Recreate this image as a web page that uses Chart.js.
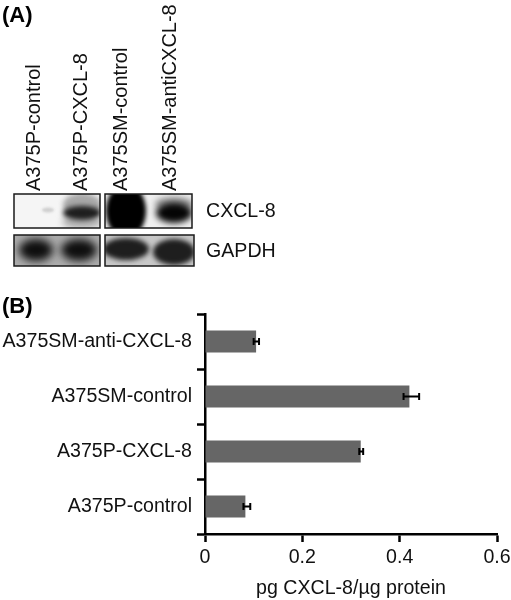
<!DOCTYPE html>
<html>
<head>
<meta charset="utf-8">
<title>CXCL-8</title>
<script src="https://cdn.jsdelivr.net/npm/chart.js@4"></script>
<style>
  html, body { margin: 0; background: #fff; }
  #wrap { position: relative; width: 511px; height: 600px; font-family: "Liberation Sans", Arial, sans-serif; color: #111; }
  #chart { position: absolute; left: 0; top: 0; }
  .txt { position: absolute; white-space: nowrap; font-size: 19.6px; line-height: 1; }
  .rot { font-size: 20px; transform-origin: 0 0; transform: rotate(-90deg); }
  .panel { font-weight: bold; font-size: 22px; color: #000; }
</style>
</head>
<body>
<div id="wrap">
  <canvas id="chart" width="511" height="600"></canvas>
  <div class="txt panel" style="left:2px;top:4px">(A)</div>
  <div class="txt panel" style="left:2px;top:295px">(B)</div>
  <div class="txt rot" style="left:23px;top:191px">A375P-control</div>
  <div class="txt rot" style="left:70px;top:191px">A375P-CXCL-8</div>
  <div class="txt rot" style="left:110px;top:191px">A375SM-control</div>
  <div class="txt rot" style="left:159px;top:191px">A375SM-antiCXCL-8</div>
  <div class="txt" style="left:206px;top:201px">CXCL-8</div>
  <div class="txt" style="left:206px;top:241px">GAPDH</div>
</div>
<script>
var categories = ['A375SM-anti-CXCL-8', 'A375SM-control', 'A375P-CXCL-8', 'A375P-control'];
var values = [0.105, 0.42, 0.32, 0.083];
var errLow = [0.100, 0.408, 0.317, 0.079];
var errHigh = [0.111, 0.44, 0.325, 0.093];
var xTicks = [0, 0.2, 0.4, 0.6];

// blot panels for part (A): x, y, w, h, background, then smudges x, y, rx, ry, colour, blur
var blots = [
  { box: [14, 194, 86, 34], bg: '#f5f5f5', spots: [
    [48, 210, 6, 2.5, '#cfcfcf', 1],
    [82, 205, 19, 12, '#a8a8a8', 2.5],
    [82, 222, 20, 7, '#b0b0b0', 3],
    [82, 213, 19, 7, '#1e1e1e', 2.5]
  ] },
  { box: [105, 194, 87, 34], bg: '#f0f0f0', spots: [
    [126, 211, 20, 27, '#000000', 2],
    [174, 204, 19, 7, '#8f8f8f', 3],
    [174, 213, 18, 10, '#050505', 3]
  ] },
  { box: [14, 235, 86, 31], bg: '#adadad', spots: [
    [36, 250, 17, 11, '#0e0e0e', 4],
    [79, 250, 18, 11, '#0e0e0e', 4]
  ] },
  { box: [105, 235, 89, 31], bg: '#c8c8c8', spots: [
    [126, 249, 23, 11, '#1e1e1e', 2.5],
    [174, 252, 21, 13, '#1e1e1e', 2.5]
  ] }
];

// western blot panels, painted behind the bar chart
var blotPlugin = {
  id: 'blots',
  beforeDraw: function(chart) {
    var ctx = chart.ctx;
    blots.forEach(function(b) {
      var r = b.box;
      ctx.save();
      ctx.beginPath();
      ctx.rect(r[0], r[1], r[2], r[3]);
      ctx.clip();
      ctx.fillStyle = b.bg;
      ctx.fillRect(r[0], r[1], r[2], r[3]);
      b.spots.forEach(function(s) {
        ctx.filter = 'blur(' + s[5] + 'px)';
        ctx.fillStyle = s[4];
        ctx.beginPath();
        ctx.ellipse(s[0], s[1], s[2], s[3], 0, 0, Math.PI * 2);
        ctx.fill();
      });
      ctx.restore();
      ctx.strokeStyle = '#1a1a1a';
      ctx.lineWidth = 1.5;
      ctx.strokeRect(r[0], r[1], r[2], r[3]);
    });
  }
};

var errorPlugin = {
  id: 'errors',
  afterDatasetsDraw: function(chart) {
    var ctx = chart.ctx;
    var xs = chart.scales.x;
    var ys = chart.scales.y;
    ctx.save();
    ctx.strokeStyle = '#000';
    ctx.lineWidth = 2;
    categories.forEach(function(c, i) {
      var y = ys.getPixelForValue(i);
      var a = xs.getPixelForValue(errLow[i]);
      var b = xs.getPixelForValue(errHigh[i]);
      ctx.beginPath();
      ctx.moveTo(a, y);
      ctx.lineTo(b, y);
      ctx.moveTo(a, y - 3.5);
      ctx.lineTo(a, y + 3.5);
      ctx.moveTo(b, y - 3.5);
      ctx.lineTo(b, y + 3.5);
      ctx.stroke();
    });
    ctx.restore();
  }
};

var font = { family: '"Liberation Sans", Arial, sans-serif', size: 19.6 };

new Chart(document.getElementById('chart'), {
  type: 'bar',
  data: {
    labels: categories,
    datasets: [{
      data: values,
      backgroundColor: '#666666',
      barPercentage: 0.4,
      categoryPercentage: 1
    }]
  },
  options: {
    indexAxis: 'y',
    responsive: false,
    animation: false,
    layout: { padding: { top: 314, right: 14, left: 0, bottom: 0 } },
    plugins: { legend: { display: false }, tooltip: { enabled: false } },
    scales: {
      x: {
        min: 0,
        max: 0.6,
        afterBuildTicks: function(scale) {
          scale.ticks = xTicks.map(function(v) { return { value: v }; });
        },
        afterFit: function(scale) {
          scale.height = 66;
          // label overhang would otherwise pull the plot in from the right
          scale.paddingLeft = 0;
          scale.paddingRight = 0;
        },
        grid: { drawOnChartArea: false, tickLength: 8, tickWidth: 2.5, tickColor: '#000' },
        border: { color: '#000', width: 2.5 },
        ticks: { color: '#111', font: font, padding: 4, maxRotation: 0,
          callback: function(v) { return String(v); } },
        title: { display: true, text: 'pg CXCL-8/µg protein', color: '#111', font: font, padding: { top: 4, bottom: 0 } }
      },
      y: {
        afterFit: function(scale) { scale.width = 205; },
        grid: { drawOnChartArea: false, offset: true, tickLength: 8, tickWidth: 2.5, tickColor: '#000' },
        border: { color: '#000', width: 2.5 },
        ticks: { color: '#111', font: font, padding: 5, autoSkip: false }
      }
    }
  },
  plugins: [blotPlugin, errorPlugin]
});
</script>
</body>
</html>
